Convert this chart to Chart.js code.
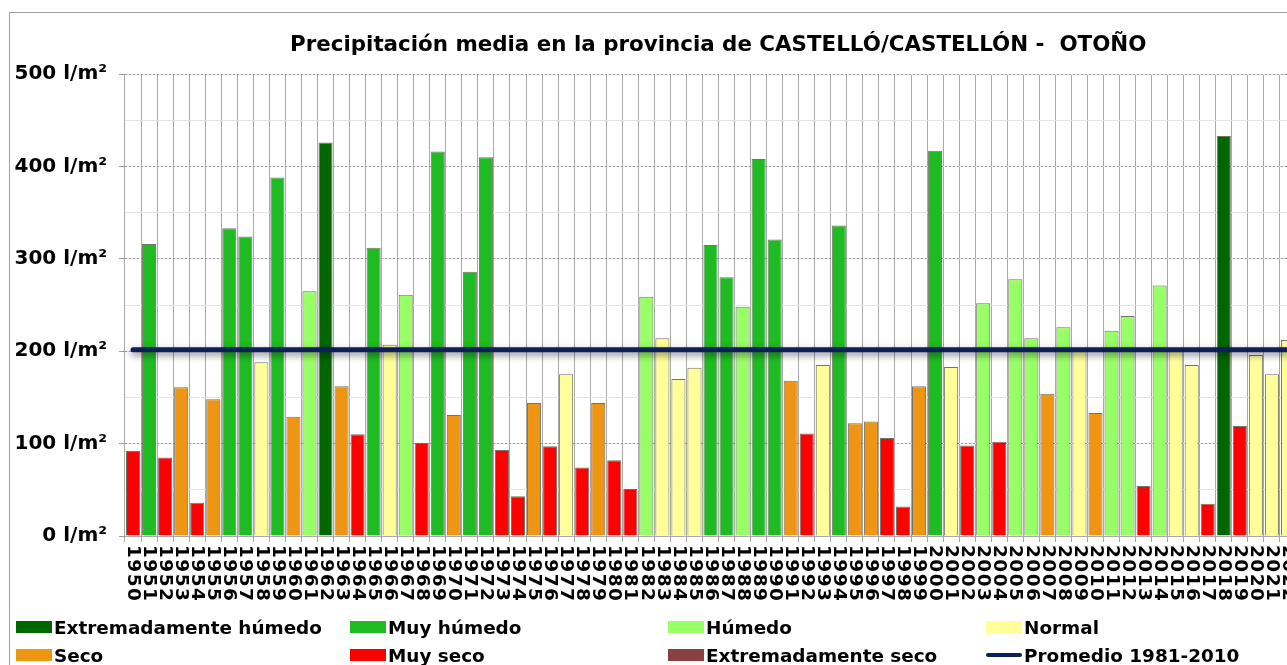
<!DOCTYPE html>
<html lang="es">
<head>
<meta charset="UTF-8">
<title>Precipitación media CASTELLÓ/CASTELLÓN - OTOÑO</title>
<script src="https://cdn.jsdelivr.net/npm/chart.js"></script>
<style>
  html, body { margin: 0; padding: 0; background: #fff; overflow: hidden; }
  body { width: 1287px; height: 665px; position: relative; font-family: 'DejaVu Sans', Verdana, sans-serif; }
  #frame { position: absolute; left: 9px; top: 12px; width: 1400px; height: 700px; border: 1.5px solid #a0a0a0; box-sizing: border-box; }
  #wrap { position: absolute; left: 0; top: 0; width: 1300px; height: 665px; }
  #title { position: absolute; left: 290px; top: 31px; font-weight: bold; font-size: 21.4px; white-space: pre; color: #000; }
  .leg { position: absolute; font-weight: bold; font-size: 18.4px; white-space: nowrap; color: #000; display: flex; align-items: center; height: 22px; }
  .leg i { display: inline-block; width: 36px; height: 12px; margin-right: 2px; }
  .leg i.line { height: 4px; border-radius: 2px; }
</style>
</head>
<body>
<div id="frame"></div>
<div id="wrap"><canvas id="chart" width="1300" height="665"></canvas></div>
<div id="title">Precipitación media en la provincia de CASTELLÓ/CASTELLÓN -  OTOÑO</div>
<div id="legend"></div>
<script>
// years (categories)
const years = [
  '1950','1951','1952','1953','1954','1955','1956','1957','1958','1959',
  '1960','1961','1962','1963','1964','1965','1966','1967','1968','1969',
  '1970','1971','1972','1973','1974','1975','1976','1977','1978','1979',
  '1980','1981','1982','1983','1984','1985','1986','1987','1988','1989',
  '1990','1991','1992','1993','1994','1995','1996','1997','1998','1999',
  '2000','2001','2002','2003','2004','2005','2006','2007','2008','2009',
  '2010','2011','2012','2013','2014','2015','2016','2017','2018','2019',
  '2020','2021','2022'
];

// autumn precipitation, l/m2
const precip = [
  92, 316, 85, 161, 36, 148, 333, 324, 188, 388,
  129, 265, 426, 162, 110, 312, 207, 261, 101, 416,
  131, 286, 410, 93, 43, 144, 97, 175, 74, 144,
  82, 51, 259, 214, 170, 182, 315, 280, 248, 408,
  321, 168, 111, 185, 336, 122, 124, 106, 32, 162,
  417, 183, 98, 252, 102, 278, 214, 154, 226, 200,
  133, 222, 238, 54, 271, 200, 185, 35, 433, 119,
  196, 175, 212
];

// character of each season
const character = [
  'MS','MH','MS','S','MS','S','MH','MH','N','MH',
  'S','H','EH','S','MS','MH','N','H','MS','MH',
  'S','MH','MH','MS','MS','S','MS','N','MS','S',
  'MS','MS','H','N','N','N','MH','MH','H','MH',
  'MH','S','MS','N','MH','S','S','MS','MS','S',
  'MH','N','MS','H','MS','H','H','S','H','N',
  'S','H','H','MS','H','N','N','MS','EH','MS',
  'N','N','N'
];

// 1981-2010 mean
const promedio = 201.5;

const yTicks = [0, 100, 200, 300, 400, 500];

const classNames = {
  EH: 'Extremadamente húmedo', MH: 'Muy húmedo', H: 'Húmedo', N: 'Normal',
  S: 'Seco', MS: 'Muy seco', ES: 'Extremadamente seco'
};
const classColors = {
  EH: '#006600', MH: '#1ebb22', H: '#99ff66', N: '#ffff99',
  S: '#ee9614', MS: '#ff0000', ES: '#8b4040'
};
const lineColor = '#0c1f5a';

// legend (html), two rows, four columns
const legendItems = [
  ['EH', 16, 627], ['MH', 350, 627], ['H', 668, 627], ['N', 986, 627],
  ['S', 16, 655], ['MS', 350, 655], ['ES', 668, 655], ['PROM', 986, 655]
];
const legend = document.getElementById('legend');
legendItems.forEach(([code, x, y]) => {
  const d = document.createElement('div');
  d.className = 'leg';
  d.style.left = x + 'px';
  d.style.top = (y - 11) + 'px';
  if (code === 'PROM') {
    d.innerHTML = '<i class="line" style="background:' + lineColor + '"></i>Promedio 1981-2010';
  } else {
    d.innerHTML = '<i style="background:' + classColors[code] + '"></i>' + classNames[code];
  }
  legend.appendChild(d);
});

// x labels drawn top-to-bottom (rotated clockwise)
const verticalLabels = {
  id: 'verticalLabels',
  afterDraw(chart) {
    const ctx = chart.ctx;
    const xs = chart.scales.x;
    ctx.save();
    ctx.font = 'bold 18.5px "DejaVu Sans"';
    ctx.letterSpacing = '1.5px';
    ctx.fillStyle = '#000';
    ctx.textAlign = 'left';
    ctx.textBaseline = 'middle';
    years.forEach((lab, i) => {
      const x = xs.getPixelForTick(i);
      ctx.save();
      ctx.translate(x, chart.chartArea.bottom + 9);
      ctx.rotate(Math.PI / 2);
      ctx.fillText(lab, 0, 0);
      ctx.restore();
    });
    ctx.restore();
  }
};

// soft shadow under the average line
const lineShadow = {
  id: 'lineShadow',
  beforeDatasetDraw(chart, args) {
    if (args.index === 1) {
      const ctx = chart.ctx;
      ctx.save();
      ctx.shadowColor = 'rgba(0,0,0,0.5)';
      ctx.shadowBlur = 7;
      ctx.shadowOffsetY = 3;
    }
  },
  afterDatasetDraw(chart, args) {
    if (args.index === 1) chart.ctx.restore();
  }
};

new Chart(document.getElementById('chart'), {
  type: 'bar',
  data: {
    labels: years,
    datasets: [{
      label: 'Precipitación',
      data: precip,
      backgroundColor: character.map(c => classColors[c]),
      borderColor: 'rgba(70,70,50,0.75)',
      borderWidth: 1,
      barPercentage: 0.875,
      categoryPercentage: 1,
      order: 1
    }, {
      type: 'line',
      label: 'Promedio 1981-2010',
      data: years.map(() => promedio),
      borderColor: lineColor,
      borderWidth: 5,
      borderCapStyle: 'round',
      pointRadius: 0,
      order: 0
    }]
  },
  options: {
    responsive: false,
    animation: false,
    layout: { padding: { top: 74, right: 4, left: 0, bottom: 0 } },
    plugins: { legend: { display: false }, tooltip: { enabled: false }, title: { display: false } },
    scales: {
      x: {
        ticks: { display: false },
        grid: { offset: true, color: '#a8a8a8', lineWidth: 1, tickLength: 6, tickColor: '#a8a8a8' },
        border: { display: true, color: '#a8a8a8' },
        afterFit: s => { s.height = 129; }
      },
      y2: {
        position: 'left',
        min: 0, max: 500,
        ticks: { display: false, stepSize: 50 },
        grid: { color: '#e4e4e4', drawTicks: false },
        border: { display: false },
        afterFit: s => { s.width = 0; }
      },
      y: {
        position: 'left',
        min: 0, max: 500,
        afterBuildTicks: s => { s.ticks = yTicks.map(v => ({ value: v })); },
        ticks: {
          padding: 12,
          color: '#000',
          font: { family: 'DejaVu Sans', weight: 'bold', size: 20 },
          callback: v => v + ' l/m²'
        },
        grid: { color: '#9a9a9a', tickLength: 6, tickColor: '#9a9a9a' },
        border: { display: false, dash: [2, 2] },
        afterFit: s => { s.width = 125; }
      }
    }
  },
  plugins: [verticalLabels, lineShadow]
});
</script>
</body>
</html>
